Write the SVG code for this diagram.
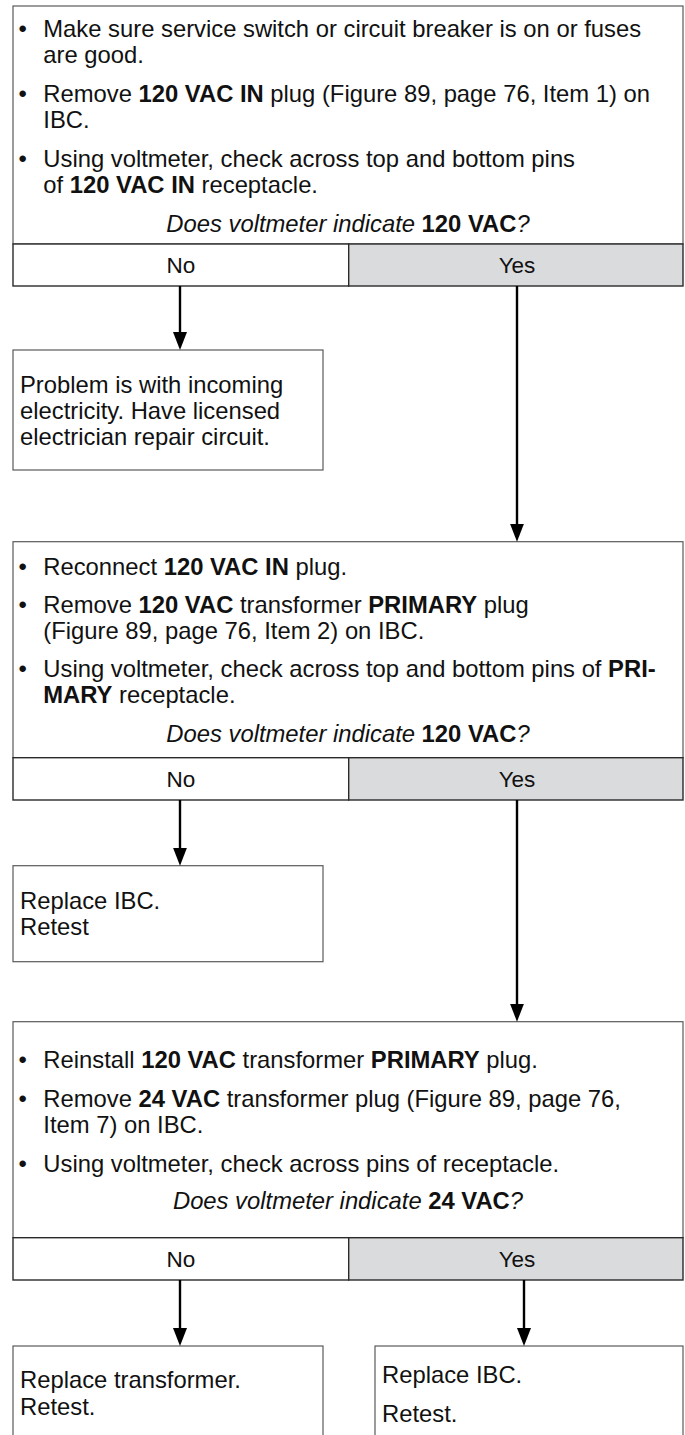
<svg xmlns="http://www.w3.org/2000/svg" width="685" height="1435" viewBox="0 0 685 1435">
<defs>
<style>
text{font-family:"Liberation Sans",Arial,Helvetica,sans-serif;font-size:23.8px;fill:#111;}
.b{font-weight:bold;}
.i{font-style:italic;}
.c{text-anchor:middle;}
.ans{font-size:22.5px;text-anchor:middle;}
.box{fill:#fff;stroke:#5a5a5a;stroke-width:1.2;}
.row{fill:#fff;stroke:#2a2a2a;stroke-width:1.4;}
.yes{fill:#dadbdd;stroke:#2a2a2a;stroke-width:1.4;}
.conn line{stroke:#000;stroke-width:2.4;marker-end:url(#ah);}
</style>
<marker id="ah" markerUnits="userSpaceOnUse" markerWidth="18" markerHeight="14" refX="10" refY="7" orient="auto" viewBox="0 0 18 14">
<path d="M0,0 L18,7 L0,14 Z" fill="#000"/>
</marker>
</defs>

<g id="q1">
<rect class="box" x="13" y="6" width="670" height="238"/>
<rect class="row" x="13" y="244" width="335.7" height="42"/>
<rect class="yes" x="348.7" y="244" width="334.3" height="42"/>
<text x="18.6" y="36.7">•</text>
<text x="43.3" y="36.7">Make sure service switch or circuit breaker is on or fuses</text>
<text x="43.3" y="63.3">are good.</text>
<text x="18.6" y="101.7">•</text>
<text x="43.3" y="101.7">Remove <tspan class="b">120 VAC IN</tspan> plug (Figure 89, page 76, Item 1) on</text>
<text x="43.3" y="128.3">IBC.</text>
<text x="18.6" y="166.7">•</text>
<text x="43.3" y="166.7">Using voltmeter, check across top and bottom pins</text>
<text x="43.3" y="193.3">of <tspan class="b">120 VAC IN</tspan> receptacle.</text>
<text class="c" x="348" y="231.7"><tspan class="i">Does voltmeter indicate </tspan><tspan class="b">120 VAC</tspan><tspan class="i">?</tspan></text>
<text class="ans" x="181" y="273">No</text>
<text class="ans" x="517" y="273">Yes</text>
</g>

<g id="r1">
<rect class="box" x="13" y="350" width="310" height="120"/>
<text x="20" y="393">Problem is with incoming</text>
<text x="20" y="418.5">electricity. Have licensed</text>
<text x="20" y="444.5">electrician repair circuit.</text>
</g>

<g id="q2">
<rect class="box" x="13" y="541.7" width="670" height="216"/>
<rect class="row" x="13" y="757.7" width="335.7" height="42.3"/>
<rect class="yes" x="348.7" y="757.7" width="334.3" height="42.3"/>
<text x="18.6" y="575">•</text>
<text x="43.3" y="575">Reconnect <tspan class="b">120 VAC IN</tspan> plug.</text>
<text x="18.6" y="613.3">•</text>
<text x="43.3" y="613.3">Remove <tspan class="b">120 VAC</tspan> transformer <tspan class="b">PRIMARY</tspan> plug</text>
<text x="43.3" y="639.3">(Figure 89, page 76, Item 2) on IBC.</text>
<text x="18.6" y="676.7">•</text>
<text x="43.3" y="676.7">Using voltmeter, check across top and bottom pins of <tspan class="b">PRI-</tspan></text>
<text x="43.3" y="703.3"><tspan class="b">MARY</tspan> receptacle.</text>
<text class="c" x="348" y="741.7"><tspan class="i">Does voltmeter indicate </tspan><tspan class="b">120 VAC</tspan><tspan class="i">?</tspan></text>
<text class="ans" x="181" y="787.3">No</text>
<text class="ans" x="517" y="787.3">Yes</text>
</g>

<g id="r2">
<rect class="box" x="13" y="865.7" width="310" height="96"/>
<text x="20" y="909.3">Replace IBC.</text>
<text x="20" y="935">Retest</text>
</g>

<g id="q3">
<rect class="box" x="13" y="1021.7" width="670" height="216"/>
<rect class="row" x="13" y="1237.7" width="335.7" height="42.3"/>
<rect class="yes" x="348.7" y="1237.7" width="334.3" height="42.3"/>
<text x="18.6" y="1068.3">•</text>
<text x="43.3" y="1068.3">Reinstall <tspan class="b">120 VAC</tspan> transformer <tspan class="b">PRIMARY</tspan> plug.</text>
<text x="18.6" y="1106.7">•</text>
<text x="43.3" y="1106.7">Remove <tspan class="b">24 VAC</tspan> transformer plug (Figure 89, page 76,</text>
<text x="43.3" y="1132.7">Item 7) on IBC.</text>
<text x="18.6" y="1171.7">•</text>
<text x="43.3" y="1171.7">Using voltmeter, check across pins of receptacle.</text>
<text class="c" x="348" y="1209.3"><tspan class="i">Does voltmeter indicate </tspan><tspan class="b">24 VAC</tspan><tspan class="i">?</tspan></text>
<text class="ans" x="181" y="1266.7">No</text>
<text class="ans" x="517" y="1266.7">Yes</text>
</g>

<g id="r3">
<rect class="box" x="13" y="1346" width="310" height="100"/>
<text x="20" y="1388.3">Replace transformer.</text>
<text x="20" y="1415">Retest.</text>
</g>

<g id="r4">
<rect class="box" x="375" y="1346" width="308" height="100"/>
<text x="382" y="1383.3">Replace IBC.</text>
<text x="382" y="1421.7">Retest.</text>
</g>

<g id="connectors" class="conn">
<line x1="180" y1="286" x2="180" y2="342"/>
<line x1="517" y1="286" x2="517" y2="533.7"/>
<line x1="180" y1="800" x2="180" y2="857.7"/>
<line x1="517" y1="800" x2="517" y2="1013.7"/>
<line x1="180" y1="1280" x2="180" y2="1338"/>
<line x1="524" y1="1280" x2="524" y2="1338"/>
</g>
</svg>
